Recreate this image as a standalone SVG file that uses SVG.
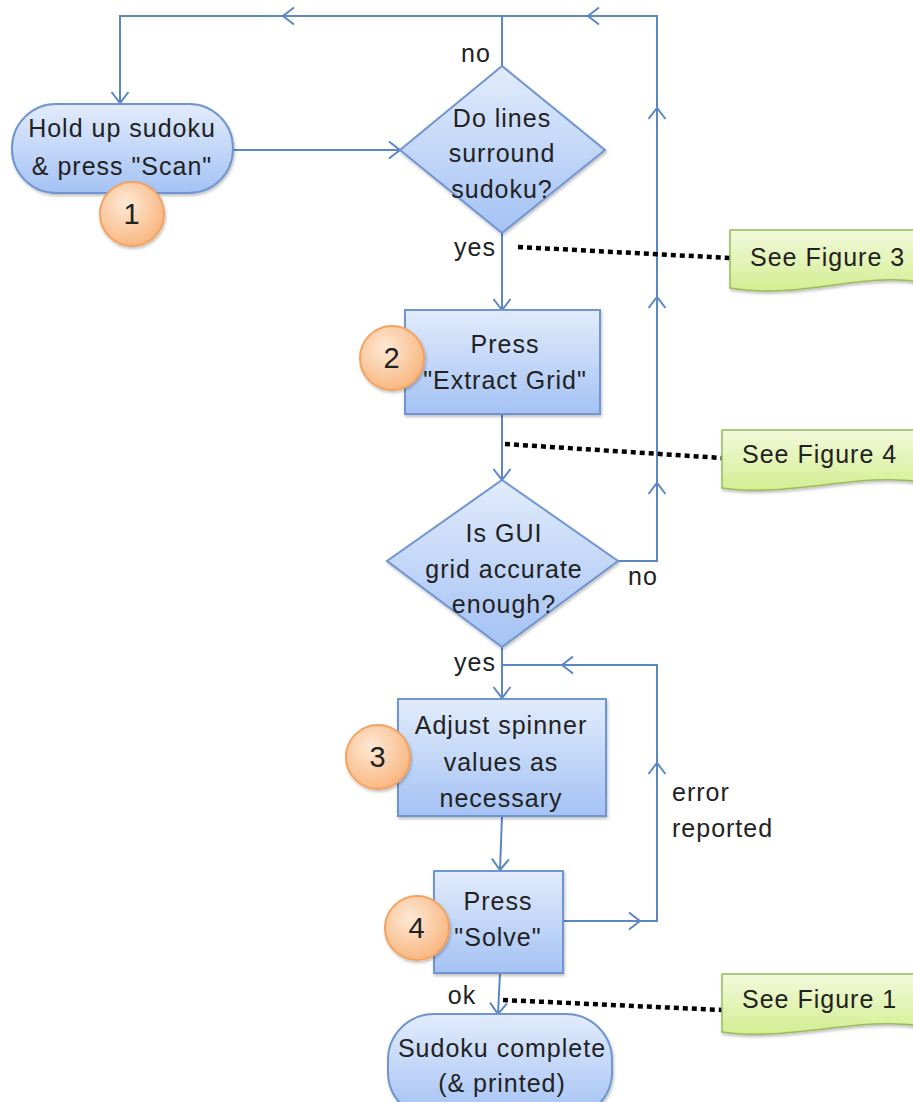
<svg xmlns="http://www.w3.org/2000/svg" width="913" height="1102" viewBox="0 0 913 1102">
<defs>
<linearGradient id="gBlue" x1="0" y1="0" x2="0" y2="1"><stop offset="0" stop-color="#e2ecfc"/><stop offset="1" stop-color="#a4c2f4"/></linearGradient>
<linearGradient id="gGreen" x1="0" y1="0" x2="0" y2="1"><stop offset="0" stop-color="#f3f9dc"/><stop offset="1" stop-color="#d3ee92"/></linearGradient>
<radialGradient id="gOrange" cx="0.4" cy="0.35" r="0.7"><stop offset="0" stop-color="#fde9d6"/><stop offset="1" stop-color="#f9b47c"/></radialGradient>
<filter id="sh" x="-10%" y="-10%" width="130%" height="130%"><feDropShadow dx="1" dy="2" stdDeviation="1.5" flood-color="#000" flood-opacity="0.25"/></filter>
<marker id="ch" markerUnits="userSpaceOnUse" markerWidth="16" markerHeight="22" refX="13" refY="10" orient="auto"><path d="M2,1.5 L13,10 L2,18.5" fill="none" stroke="#5b87c5" stroke-width="2"/></marker>
</defs>
<style>
.node{fill:url(#gBlue);stroke:#6f95d0;stroke-width:2;filter:url(#sh)}
.note{fill:url(#gGreen);stroke:#9bbb59;stroke-width:1.5;filter:url(#sh)}
.badge{fill:url(#gOrange);stroke:#f4a261;stroke-width:2;filter:url(#sh)}
.c{fill:none;stroke:#5b87c5;stroke-width:2}
.a{marker-end:url(#ch)}
.dot{fill:none;stroke:#000;stroke-width:4.5;stroke-dasharray:5 4}
text{font-family:"Liberation Sans",Arial,sans-serif;font-size:25px;fill:#222;letter-spacing:1px}
.m{text-anchor:middle}
.b{font-size:29px}
</style>
<g id="connectors">
<path class="c a" d="M618,561 H657 V483"/>
<path class="c a" d="M657,483 V297"/>
<path class="c a" d="M657,297 V108"/>
<path class="c a" d="M657,108 V16 H588"/>
<path class="c a" d="M588,16 H283"/>
<path class="c a" d="M283,16 H120 V103"/>
<path class="c" d="M502,66 V16"/>
<path class="c a" d="M233,150 H400"/>
<path class="c a" d="M502,233 V310"/>
<path class="c a" d="M502,414 V480"/>
<path class="c a" d="M502,647 V698"/>
<path class="c a" d="M502,816 L500,870"/>
<path class="c a" d="M563,921 H640"/>
<path class="c a" d="M640,921 H657 V763"/>
<path class="c a" d="M657,763 V665 H562"/>
<path class="c" d="M562,665 H502"/>
<path class="c a" d="M500,973 L498,1014"/>
<path class="dot" d="M518,247 L730,258"/>
<path class="dot" d="M505,444 L722,458"/>
<path class="dot" d="M503,1000 L722,1010"/>
</g>
<g id="labels">
<text class="m" x="476" y="62">no</text>
<text class="m" x="475" y="256">yes</text>
<text class="m" x="643" y="585">no</text>
<text class="m" x="475" y="671">yes</text>
<text x="672" y="801">error</text>
<text x="672" y="837">reported</text>
<text class="m" x="462" y="1004">ok</text>
</g>
<g id="n1">
<rect class="node" x="12" y="104" width="221" height="89" rx="44"/>
<text class="m" x="122" y="137">Hold up sudoku</text>
<text class="m" x="122" y="175">&amp; press "Scan"</text>
</g>
<g id="b1"><circle class="badge" cx="132" cy="214" r="32"/><text class="m b" x="132" y="224">1</text></g>
<g id="d1">
<path class="node" d="M502,66 L605,150 L502,233 L400,150 Z"/>
<text class="m" x="502" y="127">Do lines</text>
<text class="m" x="502" y="162">surround</text>
<text class="m" x="502" y="198">sudoku?</text>
</g>
<g id="n2">
<rect class="node" x="405" y="310" width="195" height="104"/>
<text class="m" x="505" y="353">Press</text>
<text class="m" x="505" y="389">"Extract Grid"</text>
</g>
<g id="b2"><circle class="badge" cx="392" cy="358" r="32"/><text class="m b" x="392" y="368">2</text></g>
<g id="d2">
<path class="node" d="M502,480 L618,561 L502,647 L387,561 Z"/>
<text class="m" x="504" y="542">Is GUI</text>
<text class="m" x="504" y="578">grid accurate</text>
<text class="m" x="504" y="613">enough?</text>
</g>
<g id="n3">
<rect class="node" x="398" y="699" width="208" height="117"/>
<text class="m" x="501" y="734">Adjust spinner</text>
<text class="m" x="501" y="771">values as</text>
<text class="m" x="501" y="807">necessary</text>
</g>
<g id="b3"><circle class="badge" cx="378" cy="757" r="32"/><text class="m b" x="378" y="767">3</text></g>
<g id="n4">
<rect class="node" x="434" y="871" width="129" height="102"/>
<text class="m" x="498" y="910">Press</text>
<text class="m" x="498" y="946">"Solve"</text>
</g>
<g id="b4"><circle class="badge" cx="417" cy="928" r="32"/><text class="m b" x="417" y="938">4</text></g>
<g id="n5">
<rect class="node" x="388" y="1014" width="224" height="104" rx="46"/>
<text class="m" x="502" y="1057">Sudoku complete</text>
<text class="m" x="502" y="1092">(&amp; printed)</text>
</g>
<g id="note3">
<path class="note" d="M730,230 H920 V282 C860,272 800,300 730,288 Z"/>
<text x="750" y="266">See Figure 3</text>
</g>
<g id="note4">
<path class="note" d="M722,430 H920 V482 C860,472 790,498 722,488 Z"/>
<text x="742" y="463">See Figure 4</text>
</g>
<g id="note1">
<path class="note" d="M722,974 H920 V1026 C860,1016 790,1042 722,1032 Z"/>
<text x="742" y="1008">See Figure 1</text>
</g>
</svg>
